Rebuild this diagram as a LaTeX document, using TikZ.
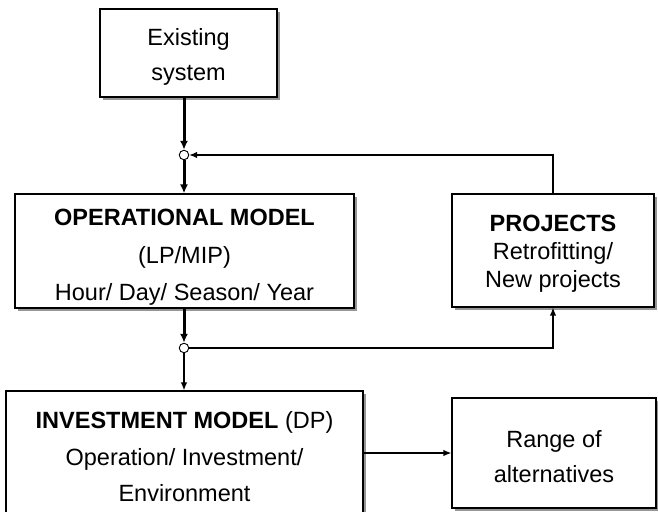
\documentclass[tikz,border=0pt]{standalone}
\usepackage{fontspec}
\setmainfont{Liberation Sans}
\usepackage{xcolor}
\usepackage{tikz}
\usetikzlibrary{arrows.meta,shadows}
\definecolor{GrisSombra}{RGB}{150,150,150}

\begin{document}
\begin{tikzpicture}[x=1pt,y=-1pt,
  caja/.style={draw,line width=1.2pt,fill=white,align=center,inner sep=0pt,
    drop shadow={shadow xshift=3pt,shadow yshift=-3pt,fill=GrisSombra,opacity=1},
    font=\fontsize{23.5}{36.5}\selectfont},
  junta/.style={circle,draw,fill=white,line width=0.9pt,inner sep=0pt,minimum size=9.5pt},
  gruesa/.style={line width=3pt,-{Latex[length=9pt,width=8pt]}},
  fina/.style={line width=1.3pt,-{Latex[length=8pt,width=6.5pt]}}]
  \fill[white] (0,0) rectangle (658,511);
  \useasboundingbox (0,0) rectangle (658,511);
  % cajas (el \rule baja un poco el texto)
  \node[caja,minimum width=177pt,minimum height=88pt,
    font=\fontsize{23.5}{35}\selectfont] (existing) at (188.5,53) {\rule{0pt}{25pt}Existing\\system};
  \node[caja,minimum width=339pt,minimum height=114pt,
    font=\fontsize{23.5}{37.5}\selectfont] (opmodel) at (184.5,251)
    {\rule{0pt}{29pt}\textbf{OPERATIONAL MODEL}\\(LP/MIP)\\Hour/ Day/ Season/ Year};
  \node[caja,minimum width=202pt,minimum height=113pt,
    font=\fontsize{23.5}{28}\selectfont] (projects) at (553,250.5)
    {\rule{0pt}{23pt}\textbf{PROJECTS}\\Retrofitting/\\New projects};
  \node[caja,minimum width=357pt,minimum height=132pt] (invmodel) at (184.5,457)
    {\textbf{INVESTMENT MODEL} (DP)\\Operation/ Investment/\\Environment};
  \node[caja,minimum width=204pt,minimum height=110pt,
    font=\fontsize{23.5}{35}\selectfont] (range) at (554,453)
    {\rule{0pt}{24pt}Range of\\alternatives};
  % uniones
  \node[junta] (j1) at (184,155) {};
  \node[junta] (j2) at (184,348) {};
  % flechas
  \draw[gruesa] (existing.south -| j1) -- (j1);
  \draw[gruesa] (j1) -- (j1 |- opmodel.north);
  \draw[fina] (projects.north) |- (j1);
  \draw[gruesa] (opmodel.south -| j2) -- (j2);
  \draw[fina] (j2) -- (j2 |- invmodel.north);
  \draw[fina] (j2) -| (projects.south);
  \draw[fina] (invmodel.east |- range.west) -- (range.west);
\end{tikzpicture}
\end{document}
